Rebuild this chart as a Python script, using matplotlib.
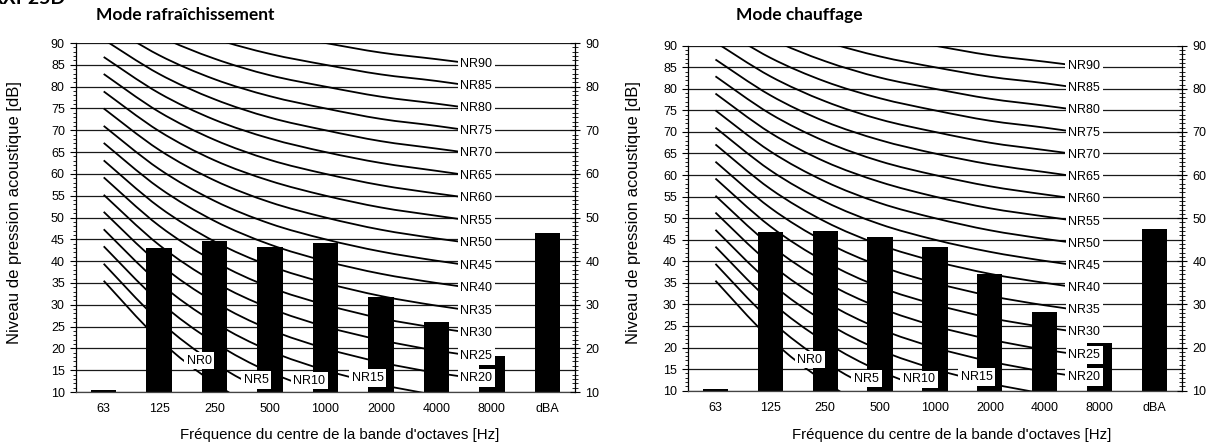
import numpy as np
import matplotlib
matplotlib.use("Agg")
from matplotlib import pyplot as plt
from matplotlib.path import Path
from matplotlib.patches import PathPatch
from matplotlib.ticker import MultipleLocator

plt.rcParams["font.family"] = ["Liberation Sans", "DejaVu Sans"]

# Octave band centres (Hz) plus overall A-weighted level
bands = ["63", "125", "250", "500", "1000", "2000", "4000", "8000", "dBA"]

# Measured sound pressure levels [dB]
cooling = [10.4, 43.1, 44.6, 43.3, 44.1, 31.8, 26.1, 18.2, 46.4]
heating = [10.5, 46.7, 47.1, 45.6, 43.4, 37.0, 28.2, 21.1, 47.4]

# NR curves, values at 63 ... 8000 Hz
nr_levels = [0, 5, 10, 15, 20, 25, 30, 35, 40, 45, 50, 55, 60, 65, 70, 75, 80, 85, 90]
nr_table = [
    [35.5, 22.0, 12.0, 4.8, 0.0, -3.5, -6.1, -8.0],
    [39.4, 26.3, 16.6, 9.7, 5.0, 1.6, -1.0, -2.8],
    [43.4, 30.7, 21.3, 14.5, 10.0, 6.6, 4.2, 2.3],
    [47.3, 35.0, 25.9, 19.4, 15.0, 11.7, 9.3, 7.4],
    [51.3, 39.4, 30.6, 24.3, 20.0, 16.8, 14.4, 12.6],
    [55.2, 43.7, 35.2, 29.2, 25.0, 21.9, 19.5, 17.7],
    [59.2, 48.1, 39.9, 34.0, 30.0, 26.9, 24.7, 22.9],
    [63.1, 52.4, 44.5, 38.9, 35.0, 32.0, 29.8, 28.0],
    [67.1, 56.8, 49.2, 43.8, 40.0, 37.1, 35.0, 33.2],
    [71.0, 61.1, 53.8, 48.6, 45.0, 42.2, 40.1, 38.3],
    [75.0, 65.5, 58.5, 53.5, 50.0, 47.2, 45.2, 43.5],
    [78.9, 69.8, 63.1, 58.4, 55.0, 52.3, 50.4, 48.6],
    [82.9, 74.2, 67.8, 63.2, 60.0, 57.4, 55.5, 53.8],
    [86.8, 78.5, 72.4, 68.1, 65.0, 62.5, 60.7, 58.9],
    [90.8, 82.9, 77.1, 72.9, 70.0, 67.5, 65.8, 64.1],
    [94.7, 87.2, 81.7, 77.8, 75.0, 72.6, 71.0, 69.2],
    [98.6, 91.6, 86.4, 82.6, 80.0, 77.7, 76.1, 74.4],
    [102.6, 95.9, 91.0, 87.5, 85.0, 82.8, 81.3, 79.5],
    [106.5, 100.3, 95.7, 92.4, 90.0, 87.8, 86.3, 84.7],
]

# Hand placed labels for the curves that leave the chart at the bottom
low_labels = {0: (1.72, 17.2), 5: (2.75, 12.8), 10: (3.71, 12.6), 15: (4.76, 13.2)}


def smooth_path(xs, ys):
    # Catmull-Rom style bezier through the points, like Excel's smoothed lines
    pts = np.column_stack([xs, ys])
    n = len(pts)
    verts = [pts[0]]
    codes = [Path.MOVETO]
    for i in range(n - 1):
        p0, p1 = pts[max(i - 1, 0)], pts[i]
        p2, p3 = pts[i + 1], pts[min(i + 2, n - 1)]
        verts += [p1 + (p2 - p0) / 6, p2 - (p3 - p1) / 6, p2]
        codes += [Path.CURVE4] * 3
    return Path(verts, codes)


def draw_panel(ax, values):
    x = np.arange(len(bands))
    for y in range(10, 91, 5):
        ax.axhline(y, color="#1a1a1a", lw=0.9, zorder=0.5)

    xs = np.arange(len(nr_table[0]))
    for nr, row in zip(nr_levels, nr_table):
        ax.add_patch(PathPatch(smooth_path(xs, row), fill=False, lw=1.3,
                               edgecolor="black", zorder=1))
        if nr in low_labels:
            lx, ly = low_labels[nr]
        else:
            lx, ly = xs[-1] - 0.28, row[-1] + 0.6
        ax.text(lx, ly, f"NR{nr}", fontsize=9, ha="center", va="center", zorder=4,
                bbox=dict(facecolor="white", edgecolor="none", pad=2.0))

    ax.bar(x, values, width=0.46, color="black", zorder=2)

    ax.set_xlim(-0.5, len(bands) - 0.5)
    ax.set_ylim(10, 90)
    ax.set_xticks(x)
    ax.set_xticklabels(bands, fontsize=9)
    ax.tick_params(axis="x", length=0, pad=8)
    ax.yaxis.set_major_locator(MultipleLocator(5))
    ax.yaxis.set_minor_locator(MultipleLocator(1))
    ax.tick_params(axis="y", which="major", length=4, width=0.8, labelsize=9, pad=4)
    ax.tick_params(axis="y", which="minor", length=2, width=0.6)
    for side in ["top", "right"]:
        ax.spines[side].set_visible(False)
    ax.spines["left"].set_linewidth(0.9)
    ax.spines["bottom"].set_linewidth(0.9)
    ax.spines["bottom"].set_color("#444444")

    ax2 = ax.twinx()
    ax2.set_ylim(10, 90)
    ax2.yaxis.set_major_locator(MultipleLocator(10))
    ax2.yaxis.set_minor_locator(MultipleLocator(1))
    ax2.tick_params(axis="y", which="major", direction="inout", length=7, width=0.8,
                    labelsize=9, pad=4)
    ax2.tick_params(axis="y", which="minor", direction="inout", length=4, width=0.6)
    for side in ["top", "left", "bottom"]:
        ax2.spines[side].set_visible(False)
    ax2.spines["right"].set_linewidth(0.9)


fig = plt.figure(figsize=(12.06, 4.48), dpi=100)
ax_cool = fig.add_axes([0.063, 0.125, 0.4138, 0.779])
ax_heat = fig.add_axes([0.5705, 0.128, 0.4095, 0.770])
draw_panel(ax_cool, cooling)
draw_panel(ax_heat, heating)

title_font = dict(family=["Lato", "DejaVu Sans"], fontweight="bold", fontsize=12.5)
fig.text(-0.008, 1.004, "RXP25D", ha="left", va="center",
         family=["Lato", "DejaVu Sans"], fontweight="bold", fontsize=14)
fig.text(0.154, 0.967, "Mode rafraîchissement", ha="center", va="center", **title_font)
fig.text(0.6625, 0.967, "Mode chauffage", ha="center", va="center", **title_font)

ylab = "Niveau de pression acoustique [dB]"
xlab = "Fréquence du centre de la bande d'octaves [Hz]"
fig.text(0.0124, 0.525, ylab, rotation=90, ha="center", va="center", fontsize=12)
fig.text(0.525, 0.525, ylab, rotation=90, ha="center", va="center", fontsize=12)
fig.text(0.282, 0.029, xlab, ha="center", va="center", fontsize=10.8)
fig.text(0.789, 0.029, xlab, ha="center", va="center", fontsize=10.8)

fig.savefig("out.png", dpi=100)
